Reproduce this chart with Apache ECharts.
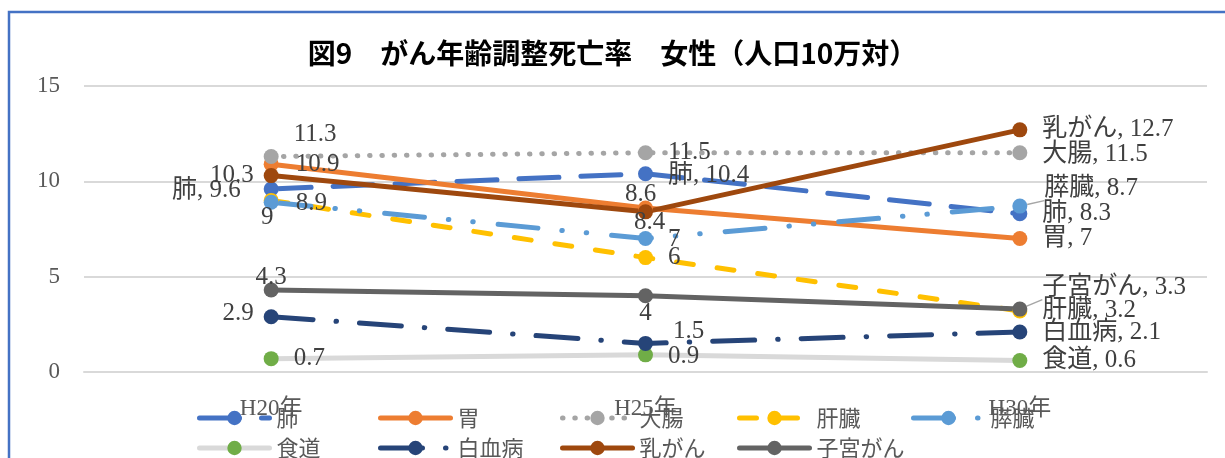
<!DOCTYPE html>
<html>
<head>
<meta charset="utf-8">
<script src="https://cdn.jsdelivr.net/npm/echarts@6/dist/echarts.min.js"></script>
<style>
  html, body { margin: 0; padding: 0; background: #fff; }
  #chart { width: 1225px; height: 458px; }
</style>
</head>
<body>
<div id="chart"></div>
<script>
// 調査年
const years = ['H20年', 'H25年', 'H30年'];
const yTicks = [0, 5, 10, 15];

// 部位別 年齢調整死亡率（女性・人口10万対）
const lung      = [9.6, 10.4, 8.3];   // 肺
const stomach   = [10.9, 8.6, 7];     // 胃
const colon     = [11.3, 11.5, 11.5]; // 大腸
const liver     = [9, 6, 3.2];        // 肝臓
const pancreas  = [8.9, 7, 8.7];      // 膵臓
const esophagus = [0.7, 0.9, 0.6];    // 食道
const leukemia  = [2.9, 1.5, 2.1];    // 白血病
const breast    = [10.3, 8.4, 12.7];  // 乳がん
const uterus    = [4.3, 4.0, 3.3];    // 子宮がん

const seriesNames = ['肺', '胃', '大腸', '肝臓', '膵臓', '食道', '白血病', '乳がん', '子宮がん'];
const seriesValues = [lung, stomach, colon, liver, pancreas, esophagus, leukemia, breast, uterus];

// 線と点の見た目
const styles = {
  '肺':     { line: '#4472C4', dot: '#4472C4', dash: [40, 22] },
  '胃':     { line: '#ED7D31', dot: '#ED7D31', dash: 'solid' },
  '大腸':   { line: '#A5A5A5', dot: '#A5A5A5', dash: [0.5, 11.8] },
  '肝臓':   { line: '#FFC000', dot: '#FFC000', dash: [17, 24] },
  '膵臓':   { line: '#5B9BD5', dot: '#5B9BD5', dash: [40, 24, 0.5, 24, 0.5, 25] },
  '食道':   { line: '#D9D9D9', dot: '#70AD47', dash: 'solid' },
  '白血病': { line: '#264478', dot: '#264478', dash: [42, 23, 0.5, 23] },
  '乳がん': { line: '#9E480E', dot: '#9E480E', dash: 'solid' },
  '子宮がん': { line: '#636363', dot: '#636363', dash: 'solid' }
};

// ラベルの配置: [position, dx, dy, 系列名を付けるか, 引き出し線]
const labelPlace = {
  '肺':     [['left', -18, 1, true, true], ['right', 10, 2, true], ['right', 10, 0, true]],
  '胃':     [['right', 12, 0], ['top', -5, 11.5], ['right', 10, 0, true]],
  '大腸':   [['right', 10, -22], ['right', 10, 0], ['right', 10, 2, true]],
  '肝臓':   [['bottom', -4, -7.5], ['right', 10, 0], ['right', 10, -1, true]],
  '膵臓':   [['right', 12, 1], ['right', 10, 1], ['right', 12, -18, true, true]],
  '食道':   [['right', 10, 0], ['right', 10, 2], ['right', 10, 0, true]],
  '白血病': [['left', -5, -3], ['right', 15, -12], ['right', 10, 0, true]],
  '乳がん': [['left', -5, 0], ['bottom', 4, -14.5], ['right', 10, 0, true]],
  '子宮がん': [['top', 0, 12], ['bottom', 0, -7.5], ['right', 10, -22, true, true]]
};

// 凡例の並び（5列×2行）
const legendCols = [192, 373, 555, 732, 906];
const legendRows = [418, 448];

const labelFont = '"Liberation Serif", "Noto Sans CJK JP", serif';
const jpFont = '"Noto Sans CJK JP", sans-serif';

const series = seriesNames.map((name, si) => {
  const st = styles[name];
  return {
    name: name,
    type: 'line',
    symbol: 'circle',
    symbolSize: 15,
    lineStyle: { color: st.line, width: 5, type: st.dash, cap: 'round' },
    itemStyle: { color: st.dot },
    emphasis: { disabled: true },
    animation: false,
    data: seriesValues[si].map((v, i) => {
      const p = labelPlace[name][i];
      return {
        value: v,
        label: {
          show: true,
          position: p[0],
          distance: 5,
          offset: [p[1], p[2]],
          formatter: p[3] ? name + ', ' + v : String(v),
          color: '#404040',
          fontSize: 25,
          fontFamily: labelFont
        },
        labelLine: p[4] ? { show: true, lineStyle: { color: '#A6A6A6', width: 1.5 } } : { show: false }
      };
    })
  };
});

const legends = seriesNames.map((name, i) => ({
  data: [name],
  left: legendCols[i % 5],
  top: legendRows[Math.floor(i / 5)] - 16,
  itemWidth: 70,
  itemHeight: 18,
  selectedMode: false,
  lineStyle: { width: 5, cap: 'round' },
  textStyle: {
    fontSize: 22,
    color: '#595959',
    fontFamily: jpFont,
    padding: [0, 0, 0, 2]
  }
}));

const chart = echarts.init(document.getElementById('chart'), null, { renderer: 'canvas' });
chart.setOption({
  backgroundColor: '#fff',
  animation: false,
  title: {
    text: '図9　がん年齢調整死亡率　女性（人口10万対）',
    left: 'center',
    top: 34,
    textStyle: {
      fontFamily: jpFont,
      fontWeight: 'bold',
      fontSize: 28,
      color: '#000'
    }
  },
  graphic: [{
    type: 'rect',
    shape: { x: 9, y: 12, width: 1400, height: 600 },
    style: { fill: 'none', stroke: '#4472C4', lineWidth: 2.5 },
    silent: true,
    z: 0
  }],
  legend: legends,
  grid: { left: 84, right: 18, top: 86, bottom: 86, containLabel: false },
  xAxis: {
    type: 'category',
    data: years,
    boundaryGap: true,
    axisLine: { show: true, lineStyle: { color: '#D9D9D9', width: 2 } },
    axisTick: { show: false },
    axisLabel: {
      margin: 25,
      fontSize: 23,
      color: '#595959',
      fontFamily: labelFont
    },
    z: 3
  },
  yAxis: {
    type: 'value',
    min: yTicks[0],
    max: yTicks[yTicks.length - 1],
    interval: yTicks[1] - yTicks[0],
    axisLine: { show: false },
    axisTick: { show: false },
    splitLine: { lineStyle: { color: '#D9D9D9', width: 2 } },
    axisLabel: {
      margin: 24,
      fontSize: 23,
      color: '#595959',
      fontFamily: labelFont
    }
  },
  series: series
});
</script>
</body>
</html>
